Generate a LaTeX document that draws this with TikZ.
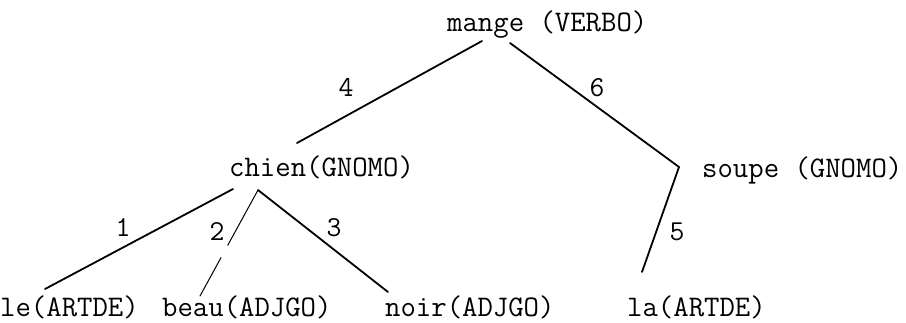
\documentclass[tikz,border=0pt]{standalone}
\begin{document}
\begin{tikzpicture}[x=1bp,y=-1bp,
  lbl/.style={inner sep=0pt,anchor=base west,font=\fontsize{30}{31}\selectfont\ttfamily},
  num/.style={inner sep=0pt,font=\fontsize{29}{30}\selectfont\ttfamily},
  edge/.style={line width=1.8bp,line cap=round},
  thinedge/.style={line width=1bp,line cap=round}]
\useasboundingbox (0,0) rectangle (906,322);
% words
\node[lbl] (mange) at (447,31) {mange (VERBO)};
\node[lbl] (chien) at (229,176) {chien(GNOMO)};
\node[lbl] (soupe) at (702,177) {soupe (GNOMO)};
\node[lbl] (le) at (0,316) {le(ARTDE)};
\node[lbl] (beau) at (162,316) {beau(ADJGO)};
\node[lbl] (noir) at (385,316) {noir(ADJGO)};
\node[lbl] (la) at (627,316) {la(ARTDE)};
% connector end points
\coordinate (mA) at (482,41);
\coordinate (mB) at (510,43);
\coordinate (cTop) at (297,143);
\coordinate (cL) at (233,189);
\coordinate (cM) at (258,190);
\coordinate (sV) at (679,167);
\coordinate (leT) at (45,289);
\coordinate (beT) at (200,296);
\coordinate (noT) at (388,292);
\coordinate (laT) at (642,272);
% connectors
\draw[edge] (mA) -- (cTop);
\draw[edge] (mB) -- (sV);
\draw[edge] (sV) -- (laT);
\draw[edge] (cL) -- (leT);
\draw[thinedge,dash pattern=on 63bp off 14bp on 60bp] (cM) -- (beT);
\draw[edge] (cM) -- (noT);
% edge numbers
\node[num] (n4) at (346,87) {4};
\node[num] (n6) at (597,88) {6};
\node[num] (n1) at (123,227) {1};
\node[num] (n2) at (217,231) {2};
\node[num] (n3) at (334,228) {3};
\node[num] (n5) at (677,232) {5};
\end{tikzpicture}
\end{document}
